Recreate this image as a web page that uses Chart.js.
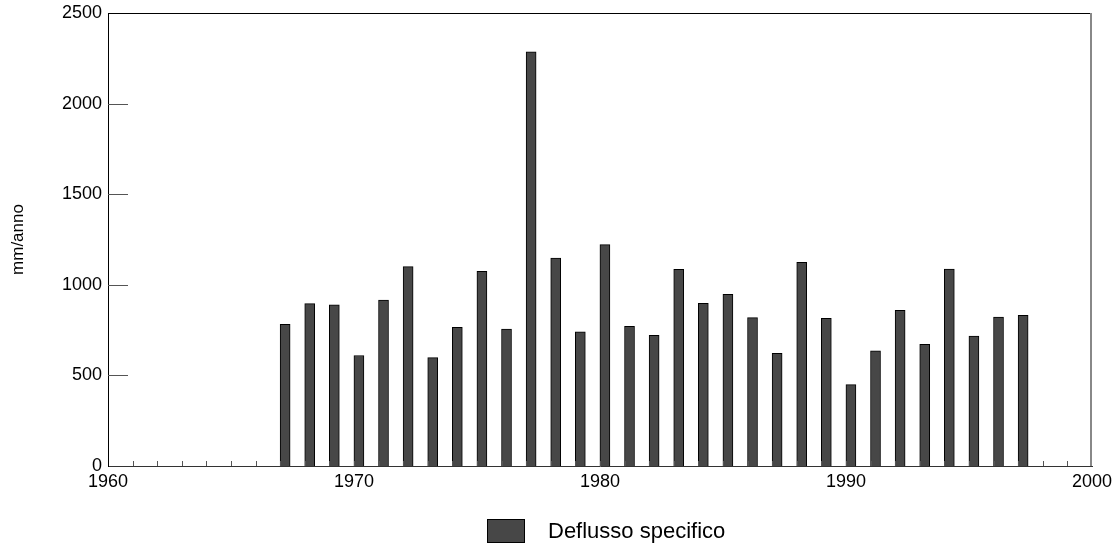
<!DOCTYPE html>
<html>
<head>
<meta charset="utf-8">
<script src="https://cdn.jsdelivr.net/npm/chart.js@4"></script>
<style>
  body { margin: 0; background: #fff; font-family: "Liberation Sans", Arial, sans-serif; }
  #wrap { position: relative; width: 1117px; height: 548px; }
  #legend { position: absolute; left: 487px; top: 518px; display: flex; align-items: center; }
  #legend .box { width: 36px; height: 22px; background: #474747; border: 1px solid #000; }
  #legend .txt { margin-left: 23px; font-size: 22px; color: #000; }
</style>
</head>
<body>
<div id="wrap">
  <canvas id="grafico" width="1117" height="548"></canvas>
  <div id="legend"><span class="box"></span><span class="txt">Deflusso specifico</span></div>
</div>
<script>
const anni = [1967, 1968, 1969, 1970, 1971, 1972, 1973, 1974, 1975, 1976,
              1977, 1978, 1979, 1980, 1981, 1982, 1983, 1984, 1985, 1986,
              1987, 1988, 1989, 1990, 1991, 1992, 1993, 1994, 1995, 1996, 1997];
const deflusso = [782, 896, 890, 610, 915, 1100, 598, 765, 1074, 756,
                  2286, 1148, 741, 1222, 771, 721, 1085, 898, 947, 819,
                  622, 1124, 815, 449, 635, 859, 672, 1087, 717, 822, 832];
const etichettaSerie = 'Deflusso specifico';
const titoloY = 'mm/anno';

const font = "'Liberation Sans', Arial, sans-serif";
const barOffset = 0.2; // bars sit just right of the year tick

// inward ticks + frame, drawn with the chart's own scales
const tacche = {
  id: 'tacche',
  afterDatasetsDraw(chart) {
    const { ctx, chartArea: a, scales: { x, y } } = chart;
    ctx.save();
    ctx.lineWidth = 1;
    ctx.strokeStyle = '#555';
    for (let v = 500; v < 2500; v += 500) {
      const py = Math.round(y.getPixelForValue(v)) + 0.5;
      ctx.beginPath(); ctx.moveTo(a.left, py); ctx.lineTo(a.left + 20, py); ctx.stroke();
    }
    for (let yr = 1961; yr < 2000; yr++) {
      const px = Math.round(x.getPixelForValue(yr)) + 0.5;
      ctx.beginPath(); ctx.moveTo(px, a.bottom); ctx.lineTo(px, a.bottom - 5); ctx.stroke();
    }
    ctx.strokeStyle = '#000';
    ctx.beginPath(); ctx.moveTo(a.left, a.top + 0.5); ctx.lineTo(a.right, a.top + 0.5); ctx.stroke();
    ctx.strokeStyle = '#888';
    ctx.lineWidth = 2;
    ctx.beginPath(); ctx.moveTo(a.right - 1, a.top); ctx.lineTo(a.right - 1, a.bottom); ctx.stroke();
    ctx.restore();
  }
};

new Chart(document.getElementById('grafico'), {
  type: 'bar',
  data: {
    datasets: [{
      label: etichettaSerie,
      data: anni.map((a, i) => ({ x: a + barOffset, y: deflusso[i] })),
      backgroundColor: '#474747',
      borderColor: '#000',
      borderWidth: 1,
      barThickness: 10
    }]
  },
  options: {
    responsive: false,
    animation: false,
    layout: { padding: { top: 13, right: 25, left: 0, bottom: 0 } },
    scales: {
      x: {
        type: 'linear',
        min: 1960,
        max: 2000,
        offset: false,
        grid: { display: false, drawTicks: false },
        border: { display: true, color: '#333', width: 1 },
        ticks: {
          stepSize: 10,
          padding: 5,
          color: '#000',
          font: { family: font, size: 18 },
          maxRotation: 0,
          callback: v => String(v)
        },
        afterFit: s => { s.height = 82; s.paddingRight = 0; s.paddingLeft = 0; }
      },
      y: {
        min: 0,
        max: 2500,
        grid: { display: false, drawTicks: false },
        border: { display: true, color: '#000', width: 1 },
        ticks: {
          stepSize: 500,
          padding: 6,
          color: '#000',
          font: { family: font, size: 18 },
          callback: v => String(v)
        },
        title: {
          display: true,
          text: titoloY,
          color: '#000',
          font: { family: font, size: 17 },
          padding: { top: 8, bottom: 0 }
        },
        afterFit: s => { s.width = 108; s.paddingTop = 0; s.paddingBottom = 0; }
      }
    },
    plugins: {
      legend: { display: false },
      tooltip: { enabled: false }
    }
  },
  plugins: [tacche]
});
</script>
</body>
</html>
